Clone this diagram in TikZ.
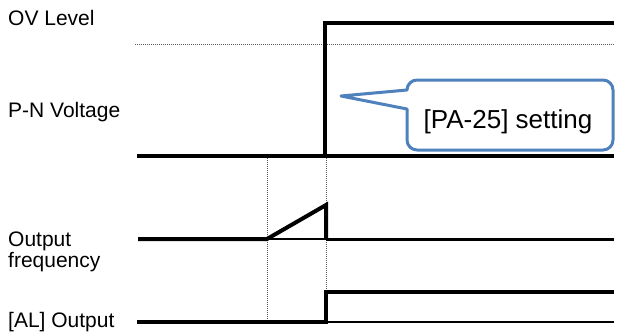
\documentclass[tikz,border=0pt]{standalone}
\usepackage{fontspec}
\setmainfont{Liberation Sans}
\usetikzlibrary{calc}
\definecolor{CalloutBlue}{RGB}{79,129,189}
\tikzset{
	wave/.style={black, line width=4pt, line join=miter},
	wavemid/.style={black, line width=3pt},
	wavethin/.style={black, line width=1.6pt},
	guide/.style={black!65, line width=0.8pt, dash pattern=on 1pt off 1pt},
	signame/.style={anchor=base west, inner sep=0pt, align=left, font=\fontsize{21}{20.5}\selectfont},
	callout/.style={draw=CalloutBlue, line width=3pt, fill=white, line join=round},
	callouttext/.style={anchor=base, inner sep=0pt, font=\fontsize{26}{30}\selectfont},
}

\begin{document}
\begin{tikzpicture}[x=1pt,y=-1pt]
	\useasboundingbox (0,0) rectangle (623,333);
	
	% Signal names
	\node[signame] (ovname) at (8,25.7) {OV Level};
	\node[signame] (pnname) at (8,117) {P-N Voltage};
	\node[signame] (freqname) at (8,267) {Output\\frequency};
	\node[signame] (alname) at (8,327) {[AL] Output};
	
	% Time marks
	\coordinate (accel) at (267,156);
	\coordinate (trip) at (326,156);
	\coordinate (accelbot) at (267,322);
	\coordinate (tripbot) at (326,322);
	\draw[guide] (accel) -- (accelbot);
	\draw[guide] (trip) -- (tripbot);
	
	% OV level (dotted)
	\coordinate (ovstart) at (135,44.5);
	\coordinate (ovend) at (614,44.5);
	\draw[guide] (ovstart) -- (ovend);
	
	% P-N voltage
	\coordinate (pnstart) at (137,156);
	\coordinate (pnhigh) at (325,23);
	\coordinate (pnend) at (614,23);
	\coordinate (pnbaseend) at (614,156);
	\draw[wave] (pnstart) -- (trip -| pnhigh) -- (pnhigh) -- (pnend);
	\draw[wave] (trip -| pnhigh) -- (pnbaseend);
	
	% Output frequency
	\coordinate (fstart) at (138,239);
	\coordinate (framp) at (267,239);
	\coordinate (fpeak) at (326,205);
	\coordinate (fdrop) at (326,239);
	\coordinate (fend) at (614,239);
	\draw[wavethin] (framp) -- (fdrop);
	\draw[wavemid] (fdrop) -- (fend);
	\draw[wave] (fstart) -- (framp) -- (fpeak) -- (fdrop);
	
	% [AL] output
	\coordinate (alstart) at (137,322);
	\coordinate (alhigh) at (326,292);
	\coordinate (alend) at (614,292);
	\coordinate (allowend) at (614,322);
	\draw[wavethin] (tripbot) -- (allowend);
	\draw[wave] (alstart) -- (tripbot) -- (alhigh) -- (alend);
	
	% Callout
	\coordinate (tip) at (341,96);
	\draw[callout] (tip) -- (407,90) [rounded corners=10pt] -- (407,80) -- (613,80) -- (613,150) -- (407,150) [sharp corners] -- (407,109) -- cycle;
	\node[callouttext] (setting) at (508,128) {[PA-25] setting};
	
\end{tikzpicture}
\end{document}
